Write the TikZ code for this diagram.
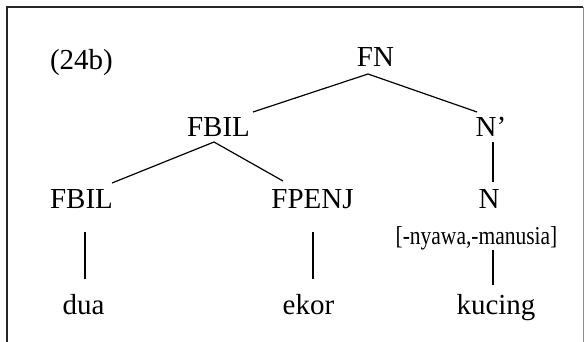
\documentclass[tikz,border=0pt]{standalone}
\usepackage{fontspec}
\setmainfont{Liberation Serif}
\begin{document}
\begin{tikzpicture}[x=1pt,y=-1pt,
  lab/.style={anchor=base,inner sep=0pt,font=\fontsize{29}{30}\selectfont},
  feat/.style={anchor=base,inner sep=0pt,font=\fontsize{21.5}{23}\selectfont},
  branch/.style={line width=1.2pt,black}]
\useasboundingbox (0,0) rectangle (587,342);
\draw[line width=1.4pt,black!85] (7,345) -- (7,7) -- (583,7);
\draw[line width=1pt,black!45] (583,7) -- (583,345);
\node[lab] (num) at (81.5,70) {(24b)};
\node[lab] (FN) at (375.5,67) {FN};
\node[lab] (FBILa) at (218.5,137) {FBIL};
\node[lab] (Nbar) at (491,137) {N’};
\node[lab] (FBILb) at (81.5,208) {FBIL};
\node[lab] (FPENJ) at (312.5,208) {FPENJ};
\node[lab] (N) at (489,208) {N};
\node[feat] (ft) at (476.5,244) {\scalebox{1}[1.2]{[-nyawa,-manusia]}};
\node[lab] (dua) at (83.5,314) {dua};
\node[lab] (ekor) at (308.5,314) {ekor};
\node[lab] (kucing) at (496,314) {kucing};
\draw[branch] ([xshift=34.5pt,yshift=25pt]FBILa.base) -- ([xshift=-7.5pt,yshift=-7pt]FN.base) -- ([xshift=-14pt,yshift=25pt]Nbar.base);
\draw[branch] ([xshift=30.5pt,yshift=25pt]FBILb.base) -- ([xshift=-4.5pt,yshift=-5pt]FBILa.base) -- ([xshift=-29.5pt,yshift=27pt]FPENJ.base);
\draw[branch] ([xshift=2pt,yshift=-5pt]Nbar.base) -- ([xshift=4pt,yshift=26pt]N.base);
\draw[branch] ([xshift=3.5pt,yshift=-24pt]FBILb.base) -- ([xshift=1.5pt,yshift=35pt]dua.base);
\draw[branch] ([xshift=0.5pt,yshift=-24pt]FPENJ.base) -- ([xshift=4.5pt,yshift=35pt]ekor.base);
\draw[branch] ([xshift=16.5pt,yshift=-6pt]ft.base) -- ([xshift=-3pt,yshift=29pt]kucing.base);
\end{tikzpicture}
\end{document}
